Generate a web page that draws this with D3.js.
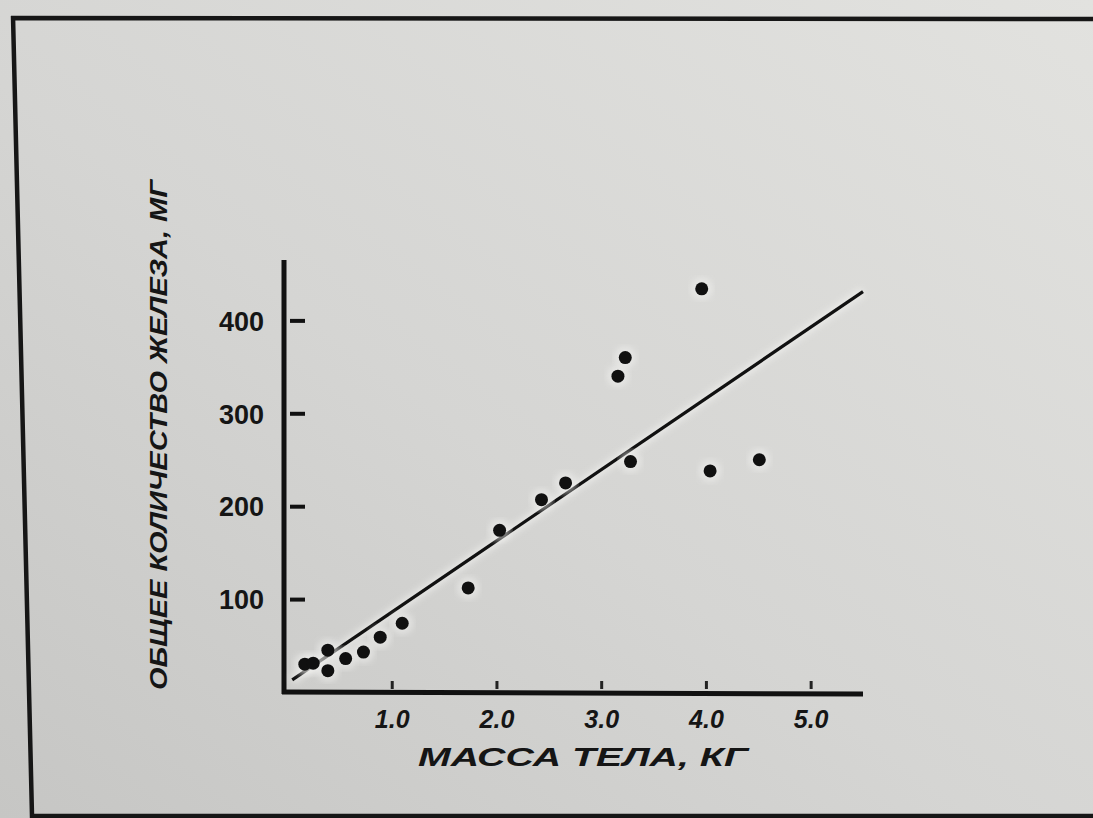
<!DOCTYPE html>
<meta charset="utf-8">
<script src="https://cdn.jsdelivr.net/npm/d3@7"></script>
<style>
    body { margin: 0; background: #d3d3d1; }
    text { font-family: "Liberation Sans", Arial, sans-serif; fill: #151515; }
</style>
<svg></svg>
<script>
    // body mass, kg
    var massKg = [0.17, 0.25, 0.39, 0.39, 0.56, 0.73, 0.89, 1.10, 1.73, 2.03, 2.43, 2.66,
                  3.16, 3.23, 3.28, 3.96, 4.04, 4.51];
    // total iron, mg
    var ironMg = [30, 31, 45, 23, 36, 43, 59, 74, 112, 174, 207, 225,
                  340, 360, 248, 434, 238, 250];
    // regression line ends
    var fitX = [0.05, 5.5];
    var fitY = [13, 431];
    var xTicks = [1, 2, 3, 4, 5];
    var xTickLabels = ['1.0', '2.0', '3.0', '4.0', '5.0'];
    var yTicks = [100, 200, 300, 400];
    var xTitle = 'МАССА  ТЕЛА,  КГ';
    var yTitle = 'ОБЩЕЕ КОЛИЧЕСТВО ЖЕЛЕЗА, МГ';

    var W = 1093, H = 818;
    var svg = d3.select('svg').attr('width', W).attr('height', H);

    var defs = svg.append('defs');
    var grad = defs.append('linearGradient').attr('id', 'paper')
        .attr('x1', 0).attr('y1', 1).attr('x2', 1).attr('y2', 0);
    grad.append('stop').attr('offset', '0%').attr('stop-color', '#c6c6c4');
    grad.append('stop').attr('offset', '45%').attr('stop-color', '#d5d5d3');
    grad.append('stop').attr('offset', '100%').attr('stop-color', '#e2e2df');
    defs.append('filter').attr('id', 'blur')
        .append('feGaussianBlur').attr('stdDeviation', 3);

    svg.append('rect').attr('width', W).attr('height', H).attr('fill', 'url(#paper)');

    // scanned frame
    svg.append('path')
        .attr('d', 'M13,16 L32,816 L1093,816 M11,18 L1093,19')
        .attr('fill', 'none').attr('stroke', '#161616').attr('stroke-width', 4.5);

    var x = d3.scaleLinear().domain([0, 5.5]).range([287, 863]);
    var y = d3.scaleLinear().domain([0, 465]).range([692, 260]);

    // axes
    svg.append('line')
        .attr('x1', x(0) - 3).attr('x2', x(0) - 3)
        .attr('y1', y(465)).attr('y2', y(0) + 2)
        .attr('stroke', '#111').attr('stroke-width', 5);
    svg.append('line')
        .attr('x1', x(0) - 5).attr('x2', x(5.5))
        .attr('y1', y(0)).attr('y2', y(0) + 2)
        .attr('stroke', '#111').attr('stroke-width', 5);

    var xAxis = d3.axisBottom(x).tickValues(xTicks).tickSize(0)
        .tickFormat((d, i) => xTickLabels[i]);
    var gx = svg.append('g').attr('transform', 'translate(0,' + y(0) + ')').call(xAxis);
    gx.select('.domain').remove();
    gx.selectAll('.tick text')
        .attr('dy', 0).attr('y', 36)
        .attr('font-size', 25).attr('font-weight', 'bold').attr('font-style', 'italic')
        .attr('font-family', '"Liberation Sans", Arial, sans-serif').attr('fill', '#181818');
    gx.selectAll('.tick').append('line')
        .attr('y1', -3).attr('y2', -11)
        .attr('stroke', '#222').attr('stroke-width', 3);

    var yAxis = d3.axisLeft(y).tickValues(yTicks).tickSize(0);
    var gy = svg.append('g').attr('transform', 'translate(' + (x(0) - 3) + ',0)').call(yAxis);
    gy.select('.domain').remove();
    gy.selectAll('.tick text')
        .attr('x', -20).attr('dy', '0.36em')
        .attr('font-size', 27).attr('font-weight', 'bold')
        .attr('font-family', '"Liberation Sans", Arial, sans-serif').attr('fill', '#181818');
    gy.selectAll('.tick').append('line')
        .attr('x1', 6).attr('x2', 21)
        .attr('stroke', '#111').attr('stroke-width', 4);

    // axis titles
    svg.append('text')
        .attr('x', 583).attr('y', 766)
        .attr('text-anchor', 'middle')
        .attr('font-size', 25).attr('font-weight', 'bold').attr('font-style', 'italic')
        .attr('textLength', 330).attr('lengthAdjust', 'spacingAndGlyphs')
        .text(xTitle);
    svg.append('text')
        .attr('transform', 'translate(167,435) rotate(-90)')
        .attr('text-anchor', 'middle')
        .attr('font-size', 24).attr('font-weight', 'bold').attr('font-style', 'italic')
        .attr('textLength', 510).attr('lengthAdjust', 'spacingAndGlyphs')
        .text(yTitle);

    // regression line
    svg.append('line')
        .attr('x1', x(fitX[0])).attr('y1', y(fitY[0]))
        .attr('x2', x(fitX[1])).attr('y2', y(fitY[1]))
        .attr('stroke', '#f4f4f2').attr('stroke-width', 9).attr('opacity', 0.6)
        .attr('filter', 'url(#blur)');
    svg.append('line')
        .attr('x1', x(fitX[0])).attr('y1', y(fitY[0]))
        .attr('x2', x(fitX[1])).attr('y2', y(fitY[1]))
        .attr('stroke', '#111').attr('stroke-width', 3.2);

    // points with a light scan halo
    var pts = massKg.map((m, i) => ({ m: m, fe: ironMg[i] }));
    svg.append('g').selectAll('circle').data(pts).enter().append('circle')
        .attr('cx', d => x(d.m)).attr('cy', d => y(d.fe))
        .attr('r', 11).attr('fill', '#f2f2f0').attr('opacity', 0.55)
        .attr('filter', 'url(#blur)');
    svg.append('g').selectAll('circle').data(pts).enter().append('circle')
        .attr('cx', d => x(d.m)).attr('cy', d => y(d.fe))
        .attr('r', 6.5).attr('fill', '#101010');
</script>
